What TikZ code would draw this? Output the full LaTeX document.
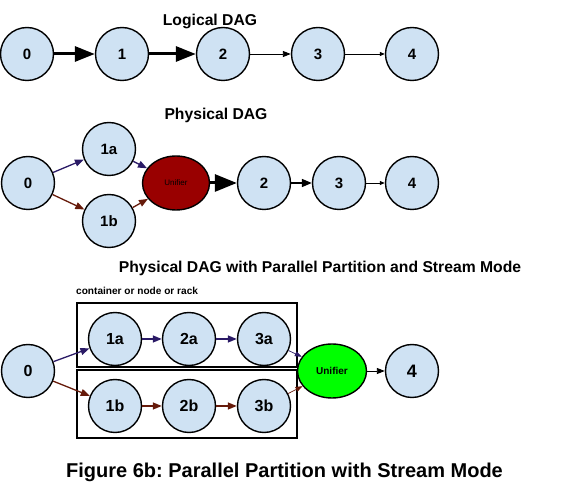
\documentclass[tikz,border=0pt]{standalone}
\usepackage{fontspec}
\setmainfont{Liberation Sans}
\usetikzlibrary{arrows.meta,shapes.geometric}
\definecolor{nodefill}{HTML}{CFE2F3}
\definecolor{arrblue}{HTML}{2A1A66}
\definecolor{arrred}{HTML}{661A0A}
\definecolor{unired}{HTML}{990000}
\definecolor{unigreen}{HTML}{00FF00}
\frenchspacing
\tikzset{
  nd/.style={circle, draw=black, line width=1.4pt, fill=nodefill, minimum size=53pt, inner sep=0pt, font=\bfseries\fontsize{15}{15}\selectfont},
  ndb/.style={nd, font=\bfseries\fontsize{16}{16}\selectfont},
  uni/.style={ellipse, draw=black, line width=1.4pt, inner sep=0pt},
  ttl/.style={font=\bfseries\fontsize{15.7}{15.7}\selectfont, inner sep=0pt},
  heavy/.style={line width=3pt, -{Triangle[length=20pt,width=15pt]}},
  med/.style={line width=1.6pt, -{Triangle[length=10pt,width=8pt]}},
  thin/.style={line width=0.9pt, -{Triangle[length=8pt,width=6pt]}},
  tiny/.style={line width=0.8pt, -{Triangle[length=5pt,width=4pt]}},
  barr/.style={draw=arrblue, line width=1.3pt, -{Triangle[length=9pt,width=7pt]}},
  rarr/.style={draw=arrred, line width=1.3pt, -{Triangle[length=9pt,width=7pt]}},
  barrt/.style={draw=arrblue, line width=0.7pt, -{Triangle[length=7pt,width=5pt]}},
  rarrt/.style={draw=arrred, line width=0.7pt, -{Triangle[length=7pt,width=5pt]}},
  box/.style={draw=black, line width=1.6pt}
}
\begin{document}
\begin{tikzpicture}[x=1pt,y=-1pt]
\useasboundingbox (0,0) rectangle (563,494);
% Row 1: Logical DAG
\node[ttl] (t1) at (210,21) {Logical DAG};
\node[nd] (a0) at (27,54) {0};
\node[nd] (a1) at (122,54) {1};
\node[nd] (a2) at (223,54) {2};
\node[nd] (a3) at (318,54) {3};
\node[nd] (a4) at (412,54) {4};
\draw[heavy] (a0) -- (a1);
\draw[heavy] (a1) -- (a2);
\draw[thin] (a2) -- (a3);
\draw[tiny] (a3) -- (a4);
% Row 2: Physical DAG
\node[ttl] (t2) at (216,115) {Physical DAG};
\node[nd] (b0) at (28,183) {0};
\node[nd] (b1a) at (109,149) {1a};
\node[nd] (b1b) at (109,221) {1b};
\node[uni, fill=unired, minimum width=67pt, minimum height=54pt, font=\fontsize{8}{8}\selectfont] (bu) at (176,183) {Unifier};
\node[nd] (b2) at (264,183) {2};
\node[nd] (b3) at (339,183) {3};
\node[nd] (b4) at (412,183) {4};
\draw[barr] (b0) -- (b1a);
\draw[rarr] (b0) -- (b1b);
\draw[barr] (b1a) -- (bu);
\draw[rarr] (b1b) -- (bu);
\draw[heavy, -{Triangle[length=22pt,width=17pt]}] (bu) -- (b2);
\draw[med] (b2) -- (b3);
\draw[tiny] (b3) -- (b4);
% Row 3: Physical DAG with Parallel Partition and Stream Mode
\node[ttl] (t3) at (320,268) {Physical DAG with Parallel Partition and Stream Mode};
\node[anchor=west, inner sep=0pt, font=\bfseries\fontsize{10.1}{10.1}\selectfont] (lbl) at (76,291) {container or node or rack};
\node[box, minimum width=220pt, minimum height=64pt, inner sep=0pt] (boxa) at (187,335) {};
\node[box, minimum width=220pt, minimum height=68pt, inner sep=0pt] (boxb) at (187,404) {};
\node[ndb] (c0) at (28,371) {0};
\node[ndb] (c1a) at (115,339) {1a};
\node[ndb] (c2a) at (189,339) {2a};
\node[ndb] (c3a) at (264,339) {3a};
\node[ndb] (c1b) at (115,406) {1b};
\node[ndb] (c2b) at (189,406) {2b};
\node[ndb] (c3b) at (264,406) {3b};
\node[uni, fill=unigreen, minimum width=69pt, minimum height=54pt, font=\bfseries\fontsize{10}{10}\selectfont] (cu) at (332,371) {Unifier};
\node[ndb, font=\bfseries\fontsize{18}{18}\selectfont] (c4) at (412,371) {4};
\draw[barr] (c0) -- (c1a);
\draw[barr] (c1a) -- (c2a);
\draw[barr] (c2a) -- (c3a);
\draw[barrt] (c3a) -- (cu);
\draw[rarr] (c0) -- (c1b);
\draw[rarr] (c1b) -- (c2b);
\draw[rarr] (c2b) -- (c3b);
\draw[rarrt] (c3b) -- (cu);
\draw[thin] (cu) -- (c4);
% Caption
\node[inner sep=0pt, font=\bfseries\fontsize{20}{20}\selectfont] (cap) at (284.5,472) {Figure 6b: Parallel Partition with Stream Mode};
\end{tikzpicture}
\end{document}
